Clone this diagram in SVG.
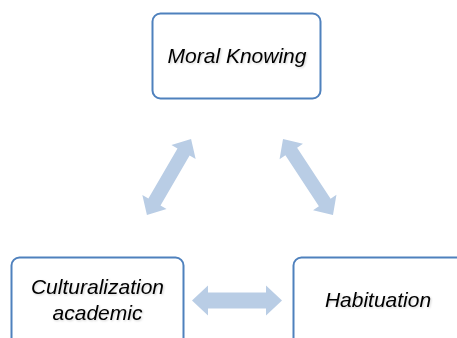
<svg xmlns="http://www.w3.org/2000/svg" width="457" height="338" viewBox="0 0 457 338">
  <defs>
    <filter id="sh" x="-10%" y="-30%" width="120%" height="160%">
      <feDropShadow dx="1" dy="1" stdDeviation="0.8" flood-color="#000" flood-opacity="0.18"/>
    </filter>
  </defs>
  <style>
    .box { fill: #ffffff; stroke: #4f81bd; stroke-width: 2; }
    .lbl { font-family: "Liberation Sans", Arial, sans-serif; font-style: italic; font-size: 21px; fill: #000; text-anchor: middle; filter: url(#sh); }
    .arr { fill: #b9cde5; stroke: none; }
  </style>
  <rect width="457" height="338" fill="#ffffff"/>
  <g id="connectors">
    <polygon class="arr" transform="translate(169,177) rotate(-59.9)" points="-44,0 -29,-14 -29,-7 29,-7 29,-14 44,0 29,14 29,7 -29,7 -29,14"/>
    <polygon class="arr" transform="translate(308,177) rotate(56.7)" points="-45.5,0 -30.5,-14 -30.5,-7 30.5,-7 30.5,-14 45.5,0 30.5,14 30.5,7 -30.5,7 -30.5,14"/>
    <polygon class="arr" transform="translate(237,300.5)" points="-45,0 -29,-15 -29,-8 29,-8 29,-15 45,0 29,15 29,8 -29,8 -29,15"/>
  </g>
  <g id="moral-knowing">
    <rect class="box" x="152.5" y="13.5" width="168" height="85" rx="8"/>
    <text class="lbl" x="237" y="63">Moral Knowing</text>
  </g>
  <g id="culturalization-academic">
    <rect class="box" x="11.5" y="257.5" width="172" height="100" rx="8"/>
    <text class="lbl" x="97.5" y="294">Culturalization</text>
    <text class="lbl" x="97.5" y="320">academic</text>
  </g>
  <g id="habituation">
    <rect class="box" x="293.5" y="257.5" width="180" height="100" rx="8"/>
    <text class="lbl" x="378" y="306.5">Habituation</text>
  </g>
</svg>
